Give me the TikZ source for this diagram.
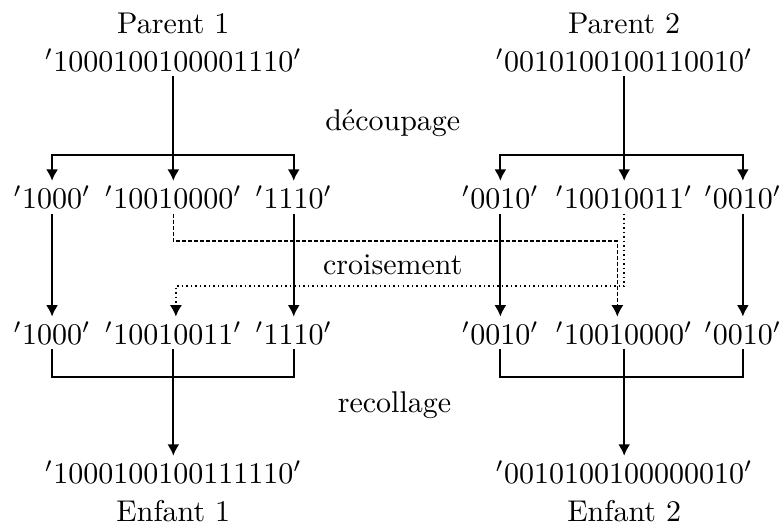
\documentclass[tikz,border=0pt]{standalone}
\usepackage{fontspec}
\usetikzlibrary{arrows.meta}
\begin{document}
\begin{tikzpicture}
                                [
                                    bits/.style = {inner sep=1.5pt},
                                    caption/.style = {inner sep=1pt},
                                    link/.style = {line width=0.7pt},
                                    swap/.style = {line width=0.5pt, dash pattern=on 1.3pt off 0.7pt},
                                    back/.style = {line width=0.5pt, densely dotted},
                                    tip/.style = {-{Latex[length=3.8pt,width=4pt]}},
                                ]
                                \useasboundingbox (0,0) rectangle (9.17,-6.21);

                                \node[caption] (n1) at (2.03,-0.28) {Parent 1};
                                \node[bits] (p1) at (2.03,-0.70) {$'1000100100001110'$};
                                \node[caption] (n2) at (7.31,-0.28) {Parent 2};
                                \node[bits] (p2) at (7.31,-0.70) {$'0010100100110010'$};

                                \node[bits] (m1a) at (0.61,-2.31) {$'1000'$};
                                \node[bits] (m1b) at (2.03,-2.31) {$'10010000'$};
                                \node[bits] (m1c) at (3.44,-2.31) {$'1110'$};
                                \node[bits] (m2a) at (5.86,-2.31) {$'0010'$};
                                \node[bits] (m2b) at (7.31,-2.31) {$'10010011'$};
                                \node[bits] (m2c) at (8.70,-2.31) {$'0010'$};

                                \node[bits] (b1a) at (0.61,-3.90) {$'1000'$};
                                \node[bits] (b1b) at (2.03,-3.90) {$'10010011'$};
                                \node[bits] (b1c) at (3.44,-3.90) {$'1110'$};
                                \node[bits] (b2a) at (5.86,-3.90) {$'0010'$};
                                \node[bits] (b2b) at (7.31,-3.90) {$'10010000'$};
                                \node[bits] (b2c) at (8.70,-3.90) {$'0010'$};

                                \node[bits] (e1) at (2.03,-5.53) {$'1000100100111110'$};
                                \node[caption] (f1) at (2.03,-5.98) {Enfant 1};
                                \node[bits] (e2) at (7.31,-5.53) {$'0010100100000010'$};
                                \node[caption] (f2) at (7.31,-5.98) {Enfant 2};

                                \node (cut) at (4.60,-1.44) {découpage};
                                \node (cross) at (4.60,-3.10) {croisement};
                                \node (glue) at (4.62,-4.74) {recollage};

                                \coordinate (s1) at (2.03,-1.815);
                                \coordinate (s2) at (7.31,-1.815);
                                \coordinate (d1) at (7.23,-2.82);
                                \coordinate (d2) at (2.06,-3.35);
                                \coordinate (j1) at (2.03,-4.415);
                                \coordinate (j2) at (7.31,-4.415);

                                \draw [link] (p1.south) -- (s1);
                                \draw [link,tip] (s1) -| (m1a.north);
                                \draw [link,tip] (s1) -- (m1b.north);
                                \draw [link,tip] (s1) -| (m1c.north);
                                \draw [link] (p2.south) -- (s2);
                                \draw [link,tip] (s2) -| (m2a.north);
                                \draw [link,tip] (s2) -- (m2b.north);
                                \draw [link,tip] (s2) -| (m2c.north);

                                \draw [link,tip] (m1a.south) -- (b1a.north);
                                \draw [link,tip] (m1c.south) -- (b1c.north);
                                \draw [link,tip] (m2a.south) -- (b2a.north);
                                \draw [link,tip] (m2c.south) -- (b2c.north);

                                \draw [swap,tip] (m1b.south) |- (d1) -- (d1 |- b2b.north);
                                \draw [back,tip] (m2b.south) |- (d2) -- (d2 |- b1b.north);

                                \draw [link] (b1a.south) |- (j1) -| (b1c.south);
                                \draw [link,tip] (b1b.south) -- (e1.north);
                                \draw [link] (b2a.south) |- (j2) -| (b2c.south);
                                \draw [link,tip] (b2b.south) -- (e2.north);
                            \end{tikzpicture}
\end{document}
